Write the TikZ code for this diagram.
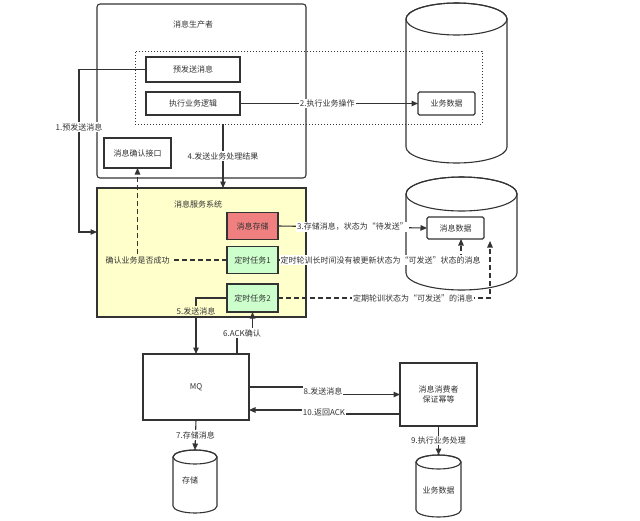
\documentclass[tikz,border=0pt]{standalone}
\usepackage{fontspec}
\setmainfont{Noto Sans CJK SC}
\usetikzlibrary{arrows.meta}
\definecolor{ink}{HTML}{333333}
\definecolor{yel}{HTML}{FFFFCC}
\definecolor{redf}{HTML}{F08080}
\definecolor{grnf}{HTML}{CCFFCC}
\begin{document}
\begin{tikzpicture}[x=1pt,y=-1pt,
  box/.style={draw=ink, line width=1.1pt, inner sep=0pt, outer sep=0pt, font=\fontsize{8}{10}\selectfont, text=ink, align=center},
  txt/.style={font=\fontsize{8}{10}\selectfont, text=ink, inner sep=1pt},
  lab/.style={font=\fontsize{8}{10}\selectfont, text=ink, inner sep=1pt, fill=white},
  arr/.style={draw=ink, line width=1.1pt, -{Triangle[length=6.5pt,width=5.5pt]}},
  darr/.style={arr, dash pattern=on 5pt off 3pt},
  cyl/.style={draw=ink, line width=1.1pt, fill=white},
]
\useasboundingbox[fill=white] (0,0) rectangle (640,520);

% producer
\node[box, rounded corners=3pt, minimum width=209pt, minimum height=174pt] (prod) at (201.5,91) {};
\node[txt] (prodlab) at (193,24) {消息生产者};

% cylinder 1
\path[cyl] (406,19) -- (406,147) arc[start angle=180,end angle=360,x radius=50.5pt,y radius=16pt] -- (507,19) arc[start angle=0,end angle=180,x radius=50.5pt,y radius=16pt] -- cycle;
\draw[cyl, fill=none] (456.5,19) ellipse [x radius=50.5pt, y radius=16pt];
\node[draw=ink, line width=1pt, dotted, inner sep=0pt, outer sep=0pt, minimum width=347pt, minimum height=73pt] (scope) at (308.5,87.5) {};

\node[box, minimum width=94pt, minimum height=25pt] (pre) at (193,69.5) {预发送消息};
\node[box, minimum width=94pt, minimum height=23pt] (exec) at (193,103.5) {执行业务逻辑};
\node[box, rounded corners=1.5pt, fill=white, minimum width=57pt, minimum height=23pt] (biz) at (446.5,103.5) {业务数据};
\node[box, minimum width=67pt, minimum height=30pt] (ack) at (137.5,153) {消息确认接口};

% service system
\node[box, fill=yel, minimum width=209pt, minimum height=129pt] (svc) at (201.5,252.5) {};
\node[txt] (svclab) at (198,204) {消息服务系统};
\node[box, fill=redf, minimum width=51pt, minimum height=27pt] (store) at (252.5,226) {消息存储};
\node[box, fill=grnf, minimum width=51pt, minimum height=27pt] (task1) at (252.5,260) {定时任务1};
\node[box, fill=grnf, minimum width=51pt, minimum height=28pt] (task2) at (252.5,298) {定时任务2};

% cylinder 2
\path[cyl] (406,194) -- (406,273) arc[start angle=180,end angle=360,x radius=55.5pt,y radius=17pt] -- (517,194) arc[start angle=0,end angle=180,x radius=55.5pt,y radius=17pt] -- cycle;
\draw[cyl, fill=none] (461.5,194) ellipse [x radius=55.5pt, y radius=17pt];
\node[box, rounded corners=1.5pt, fill=white, minimum width=57pt, minimum height=22pt] (msgdata) at (455.5,228) {消息数据};

% MQ and consumer
\node[box, minimum width=106pt, minimum height=66pt] (mq) at (196,387) {MQ};
\node[box, minimum width=77pt, minimum height=63pt] (con) at (438.5,394.5) {消息消费者\\保证幂等};

% storage cylinder
\path[cyl] (173,457) -- (173,506) arc[start angle=180,end angle=360,x radius=22pt,y radius=7pt] -- (217,457) arc[start angle=0,end angle=180,x radius=22pt,y radius=7pt] -- cycle;
\draw[cyl, fill=none] (195,457) ellipse [x radius=22pt, y radius=7pt];
\coordinate (sttop) at (195,450);
\node[txt] (stlab) at (190,480) {存储};

% business data cylinder 2
\path[cyl] (416,462) -- (416,510) arc[start angle=180,end angle=360,x radius=22.5pt,y radius=7pt] -- (461,462) arc[start angle=0,end angle=180,x radius=22.5pt,y radius=7pt] -- cycle;
\draw[cyl, fill=none] (438.5,462) ellipse [x radius=22.5pt, y radius=7pt];
\coordinate (b2top) at (438.5,455);
\node[txt] (b2lab) at (438.5,490) {业务数据};

% coordinates
\coordinate (c1) at (79,232);
\coordinate (c4) at (223,124);
\coordinate (d1) at (461,239);
\coordinate (d2) at (490,241);
\coordinate (c6) at (237,354);
\coordinate (c10a) at (400,414);
\coordinate (c10b) at (249,410);

% 1
\draw[arr] (pre.west) -| (c1) -- (c1 -| svc.west);
\node[lab] (l1) at (79,127) {1.预发送消息};
% 2
\draw[arr] (exec.east) -- node[lab, pos=0.49] (l2) {2.执行业务操作} (biz.west);
% 4
\draw[arr] (c4) -- node[lab] (l4) {4.发送业务处理结果} (c4 |- svc.north);
% 3
\draw[arr] (store.east) -- node[lab] (l3) {3.存储消息，状态为“待发送”} (msgdata.west);
% confirm
\draw[darr] (task1.west) -| node[lab, fill=yel] (lc) {确认业务是否成功} (ack.south);
% task1 -> msgdata
\draw[darr] (task1.east) -| (d1);
\node[lab] (lt1) at (380.5,260) {定时轮训长时间没有被更新状态为“可发送”状态的消息};
% task2 -> msgdata
\draw[darr] (task2.east) -| (d2);
\node[lab] (lt2) at (413,298) {定期轮训状态为“可发送”的消息};
% 5
\draw[arr] (task2.west) -| (mq.north);
\node[lab, fill=yel] (l5) at (196,311) {5.发送消息};
% 6
\draw[arr] (c6) -- (237,333) -| (task2.south);
\node[lab] (l6) at (242,333) {6.ACK确认};
% 7
\draw[arr] (mq.south) -- node[lab] (l7) {7.存储消息} (sttop);
% 8
\draw[arr] (mq.east) -- (323,387) |- (con.west);
\node[lab] (l8) at (323,391) {8.发送消息};
% 10
\draw[arr] (c10a) -- (323,414) |- (c10b);
\node[lab] (l10) at (324,413) {10.返回ACK};
% 9
\draw[arr] (con.south) -- node[lab, pos=0.5] (l9) {9.执行业务处理} (b2top);
\end{tikzpicture}
\end{document}
